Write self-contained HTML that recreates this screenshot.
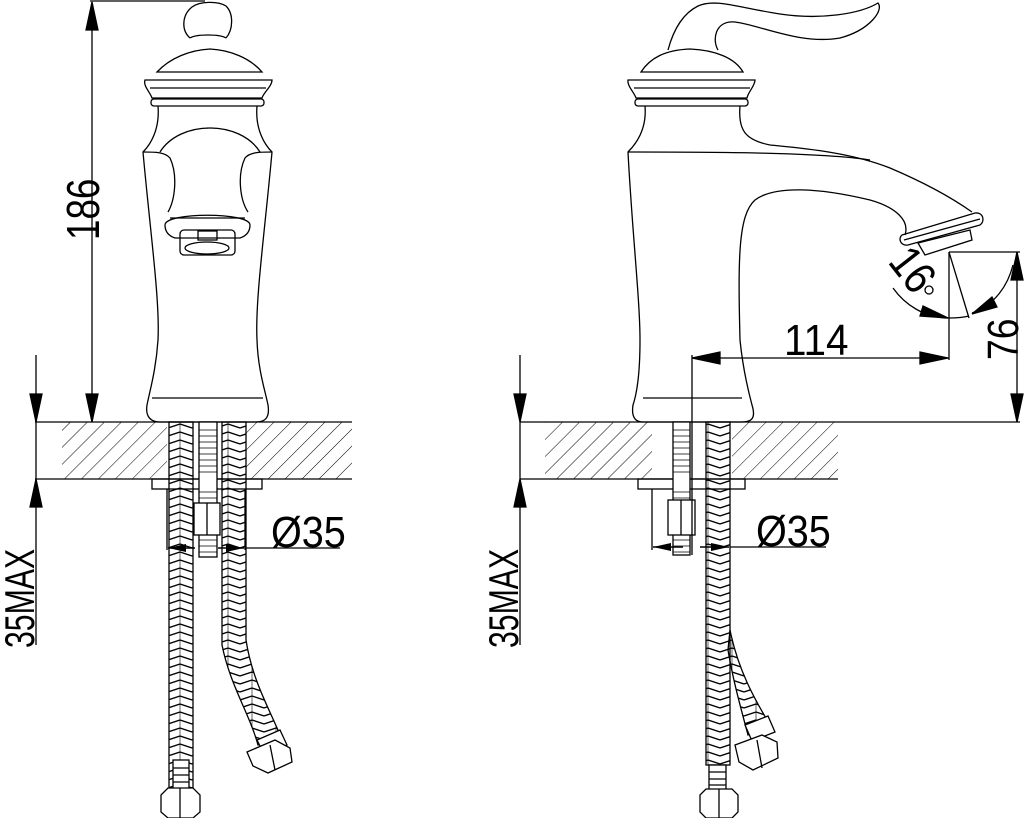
<!DOCTYPE html>
<html><head><meta charset="utf-8"><style>
html,body{margin:0;padding:0;background:#fff;}
svg{display:block}
text{font-family:"Liberation Sans",sans-serif;fill:#000}
</style></head><body>
<svg width="1024" height="818" viewBox="0 0 1024 818" xmlns="http://www.w3.org/2000/svg">
<defs>
<pattern id="hatch" width="12" height="12" patternUnits="userSpaceOnUse" patternTransform="rotate(45)">
<line x1="0" y1="0" x2="0" y2="12" stroke="#000" stroke-width="1"/>
</pattern>
<pattern id="braid" width="24" height="16" patternUnits="userSpaceOnUse">
<path d="M0 4 L12 0 M0 12 L12 8 M0 20 L12 16 M12 0 L24 4 M12 8 L24 12 M12 16 L24 20 M12 -8 L24 -4" stroke="#000" stroke-width="1.4" fill="none"/>
<line x1="12" y1="0" x2="12" y2="16" stroke="#000" stroke-width="0.6"/>
</pattern>
<marker id="ar" markerWidth="18" markerHeight="8" refX="18" refY="4" orient="auto" markerUnits="userSpaceOnUse">
<path d="M0 0 L18 4 L0 8 Z" fill="#000"/>
</marker>
</defs>
<g stroke="#000" stroke-width="1.3" fill="none">

<!-- ===== LEFT VIEW ===== -->
<rect x="62" y="422" width="105" height="57" fill="url(#hatch)" stroke="none"/>
<rect x="246" y="422" width="106" height="57" fill="url(#hatch)" stroke="none"/>
<line x1="35" y1="422" x2="352" y2="422"/>
<line x1="35" y1="479" x2="352" y2="479"/>
<line x1="90" y1="1" x2="205" y2="1"/>
<line x1="92" y1="2" x2="92" y2="422"/>
<path d="M86 30 L92 2 L98 30Z M86 394 L92 422 L98 394Z" fill="#000"/>
<line x1="36" y1="355" x2="36" y2="645"/>
<path d="M30 394 L36 422 L42 394Z M30 507 L36 479 L42 507Z" fill="#000"/>
<path d="M190 38 C181 30 182 15 192 7 C200 1 218 1 226 6 C234 14 233 30 226 38"/>
<path d="M190 38 C196 34 220 34 226 38"/>
<path d="M157 72 C170 58 190 50 210 49 C230 50 250 58 262 72 Z"/>
<path d="M145 80 L272 80 C272 86 264 92 262 98 L152 98 C150 92 143 86 145 80 Z"/>
<line x1="150" y1="88" x2="266" y2="88"/>
<rect x="151" y="99" width="113" height="7" rx="3"/>
<path d="M158 106 C160 130 150 145 143 152 C150 230 160 300 158 340 C156 370 150 390 147 405 C145 418 152 422 160 422 L256 422 C265 422 270 418 268 405 C265 390 258 370 257 340 C255 300 265 230 272 152 C265 145 255 130 257 106"/>
<line x1="152" y1="398" x2="263" y2="398"/>
<path d="M160 152 C180 120 240 120 260 152"/>
<path d="M143 152 C155 152 165 152 170 158 C178 175 175 200 168 212 M272 152 C260 152 250 152 245 158 C237 175 240 200 248 212"/>
<path d="M165 225 C165 212 250 212 250 225 C250 232 246 236 240 238 L175 238 C169 236 165 232 165 225Z"/>
<line x1="170" y1="218" x2="245" y2="218"/>
<rect x="180" y="230" width="55" height="25" rx="4"/>
<ellipse cx="207" cy="248" rx="22" ry="6"/>
<rect x="198" y="231" width="19" height="9"/>
<rect x="152" y="479" width="110" height="10"/>
<rect x="169" y="422" width="24" height="368" fill="url(#braid)"/>
<path d="M222 422 L246 422 L246 640 C252 680 270 710 280 735 L258 745 C250 715 230 685 222 645 Z" fill="url(#braid)"/>
<rect x="199" y="422" width="18" height="135" fill="#fff"/>
<path d="M199 430 L217 430 M199 436 L217 436 M199 442 L217 442 M199 448 L217 448 M199 454 L217 454 M199 460 L217 460 M199 466 L217 466 M199 472 L217 472 M199 492 L217 492 M199 498 L217 498 M199 540 L217 540 M199 546 L217 546 M199 552 L217 552" stroke-width="0.8"/>
<rect x="194" y="503" width="26" height="32" fill="#fff"/>
<line x1="207" y1="503" x2="207" y2="535"/>
<rect x="173" y="760" width="16" height="30" fill="#fff"/>
<path d="M173 768 L189 768 M173 775 L189 775 M173 782 L189 782"/>
<path d="M161 795 L168 788 L193 788 L200 795 L200 812 L193 818 L168 818 L161 812 Z" fill="#fff"/>
<line x1="180" y1="788" x2="180" y2="818"/>
<path d="M257 740 L280 730 L287 745 L264 754Z" fill="#fff"/>
<path d="M247 752 L275 740 L290 748 L292 762 L268 773 L253 766 Z" fill="#fff"/>
<line x1="270" y1="745" x2="275" y2="770"/>
<line x1="167" y1="489" x2="167" y2="550"/>
<line x1="245" y1="489" x2="245" y2="550"/>
<line x1="245" y1="548" x2="340" y2="548"/>
<line x1="195" y1="548" x2="168" y2="548" marker-end="url(#ar)" stroke-width="1.5"/>
<line x1="218" y1="548" x2="244" y2="548" marker-end="url(#ar)" stroke-width="1.5"/>

<!-- ===== RIGHT VIEW ===== -->
<rect x="545" y="422" width="107" height="57" fill="url(#hatch)" stroke="none"/>
<rect x="732" y="422" width="106" height="57" fill="url(#hatch)" stroke="none"/>
<line x1="520" y1="422" x2="1020" y2="422"/>
<line x1="520" y1="479" x2="838" y2="479"/>
<line x1="520" y1="355" x2="520" y2="645"/>
<path d="M514 394 L520 422 L526 394Z M514 507 L520 479 L526 507Z" fill="#000"/>
<path d="M668 50 C672 35 680 15 698 6 C715 -2 740 8 780 14 C820 20 860 14 878 3 C884 10 870 30 840 38 C800 45 760 25 735 22 C715 20 712 40 718 50"/>
<path d="M641 72 C650 58 665 50 690 49 C715 50 735 58 743 72 Z"/>
<path d="M628 80 L755 80 C755 86 748 92 747 98 L636 98 C634 92 627 86 628 80Z"/>
<line x1="634" y1="88" x2="750" y2="88"/>
<rect x="635" y="99" width="113" height="7" rx="3"/>
<path d="M645 106 C647 130 635 145 628 152 C632 230 640 300 640 340 C640 370 638 390 633 405 C631 418 636 422 643 422 L742 422 C752 422 756 418 752 405 C748 390 743 370 740 340 C738 260 738 215 755 200 C775 185 820 188 870 200 C895 207 910 220 905 235"/>
<path d="M740 106 C738 130 745 140 770 145 C800 148 850 152 890 168 C930 185 955 200 972 212"/>
<path d="M628 152 C700 152 820 152 870 160"/>
<line x1="643" y1="398" x2="742" y2="398"/>
<path d="M902 235 L975 213 C984 212 985 222 980 225 L908 245 C900 246 898 238 902 235Z"/>
<line x1="904" y1="240" x2="980" y2="219"/>
<path d="M918 243 L970 230 L972 240 L925 255 Z"/>
<rect x="638" y="479" width="107" height="10"/>
<path d="M730 630 C738 670 755 700 770 725 L748 735 C740 705 733 680 728 650Z" fill="url(#braid)"/>
<path d="M745 725 L768 716 L775 732 L752 741Z" fill="#fff"/>
<path d="M735 745 L762 735 L777 742 L778 758 L753 770 L739 762 Z" fill="#fff"/>
<line x1="757" y1="740" x2="762" y2="768"/>
<rect x="706" y="422" width="24" height="343" fill="url(#braid)"/>
<rect x="673" y="422" width="17" height="133" fill="#fff"/>
<path d="M673 430 L690 430 M673 436 L690 436 M673 442 L690 442 M673 448 L690 448 M673 454 L690 454 M673 460 L690 460 M673 466 L690 466 M673 472 L690 472 M673 492 L690 492 M673 498 L690 498 M673 540 L690 540 M673 546 L690 546 M673 552 L690 552" stroke-width="0.8"/>
<rect x="668" y="500" width="27" height="35" fill="#fff"/>
<line x1="681" y1="500" x2="681" y2="535"/>
<rect x="709" y="765" width="17" height="25" fill="#fff"/>
<path d="M709 772 L726 772 M709 779 L726 779 M709 785 L726 785"/>
<path d="M700 795 L706 789 L732 789 L738 795 L738 812 L732 818 L706 818 L700 812 Z" fill="#fff"/>
<line x1="719" y1="789" x2="719" y2="818"/>
<line x1="652" y1="489" x2="652" y2="550"/>
<line x1="730" y1="547" x2="826" y2="547"/>
<line x1="683" y1="547" x2="653" y2="547" marker-end="url(#ar)" stroke-width="1.5"/>
<line x1="700" y1="547" x2="729" y2="547" marker-end="url(#ar)" stroke-width="1.5"/>
<line x1="692" y1="355" x2="692" y2="555"/>
<line x1="949" y1="252" x2="949" y2="360"/>
<line x1="949" y1="252" x2="1020" y2="252"/>
<line x1="949" y1="252" x2="969" y2="318"/>
<line x1="692" y1="358" x2="949" y2="358"/>
<path d="M720 352 L692 358 L720 364Z M920 352 L948 358 L920 364Z" fill="#000"/>
<line x1="1017" y1="252" x2="1017" y2="422"/>
<path d="M1011 280 L1017 252 L1023 280Z M1011 394 L1017 422 L1023 394Z" fill="#000"/>
<path d="M893 288 C905 305 925 318 949 318 C958 318 965 317 969 316"/>
<path d="M1013 265 C1008 285 995 305 972 313"/>
<path d="M923 306 L948 318 L920 316Z" fill="#000"/>
<path d="M992 297 L972 314 L997 307Z" fill="#000"/>
</g>
<text transform="translate(99,240) rotate(-90) scale(0.8,1)" font-size="46">186</text>
<text transform="translate(34,648) rotate(-90) scale(0.72,1)" font-size="42">35MAX</text>
<text transform="translate(518,648) rotate(-90) scale(0.72,1)" font-size="42">35MAX</text>
<text transform="translate(271,547) scale(0.9,1)" font-size="44">Ø35</text>
<text transform="translate(756,546) scale(0.9,1)" font-size="44">Ø35</text>
<text transform="translate(784,355) scale(0.92,1)" font-size="44">114</text>
<text transform="translate(1018,360) rotate(-90) scale(0.85,1)" font-size="44">76</text>
<text transform="translate(887,262) rotate(52) scale(0.85,1)" font-size="46">16</text>
<circle cx="929" cy="290" r="4" fill="none" stroke="#000" stroke-width="1.3"/>
</svg>
</body></html>
